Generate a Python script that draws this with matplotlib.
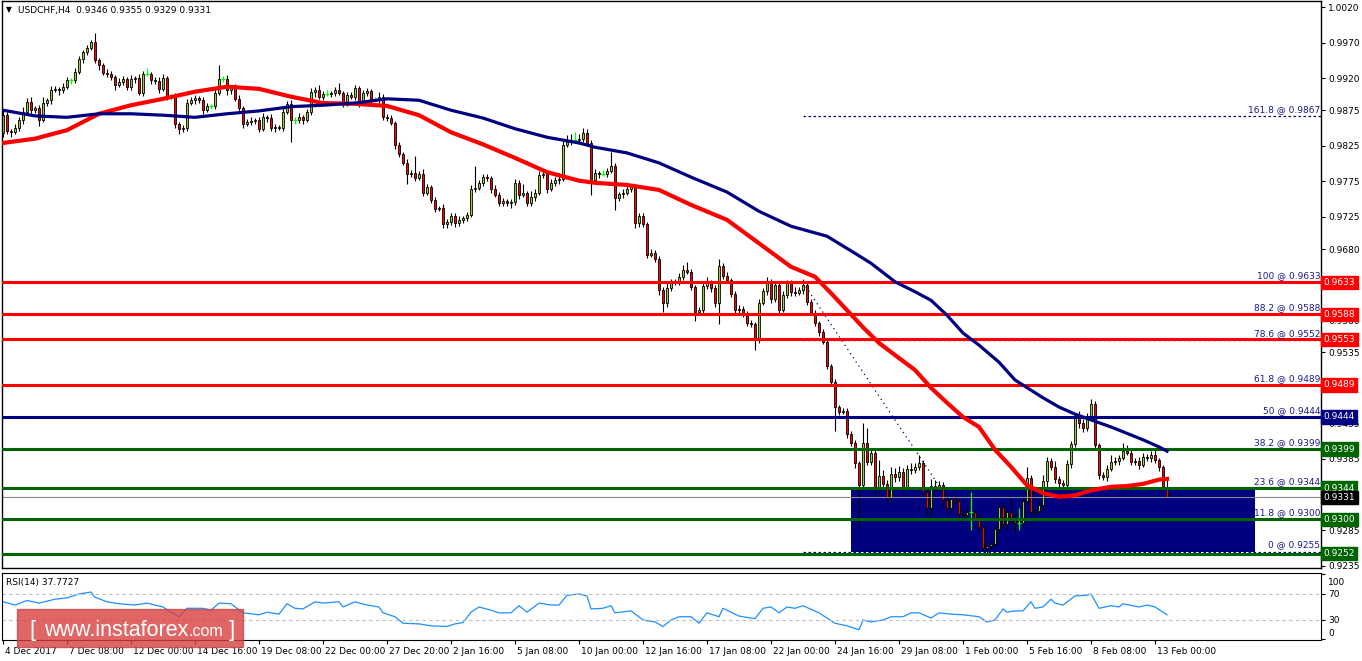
import numpy as np
import matplotlib
matplotlib.use("Agg")
import matplotlib.pyplot as plt
import matplotlib.transforms as mtransforms
from matplotlib.patches import Rectangle

plt.rcParams['font.family'] = ['DejaVu Sans']

# USDCHF H4 closes in pips (9868 = 0.9868), 16 bars per row
first_open = 9843
closes = [
    9868, 9846, 9844, 9850, 9861, 9872, 9887, 9875, 9878, 9861, 9885, 9889, 9903, 9905, 9903, 9908,
    9917, 9917, 9929, 9947, 9957, 9962, 9971, 9945, 9938, 9927, 9926, 9922, 9910, 9915, 9919, 9908,
    9919, 9920, 9899, 9926, 9926, 9917, 9916, 9905, 9920, 9894, 9894, 9856, 9849, 9850, 9885, 9889,
    9892, 9889, 9875, 9881, 9881, 9899, 9919, 9919, 9903, 9908, 9891, 9878, 9856, 9858, 9860, 9861,
    9849, 9865, 9864, 9850, 9851, 9850, 9872, 9884, 9861, 9861, 9865, 9861, 9872, 9900, 9903, 9894,
    9898, 9898, 9899, 9903, 9899, 9885, 9896, 9894, 9906, 9885, 9899, 9902, 9889, 9889, 9894, 9866,
    9864, 9857, 9826, 9813, 9801, 9785, 9787, 9780, 9786, 9759, 9767, 9749, 9736, 9738, 9715, 9718,
    9726, 9716, 9721, 9724, 9728, 9764, 9766, 9773, 9781, 9780, 9764, 9756, 9745, 9747, 9744, 9746,
    9773, 9756, 9759, 9745, 9753, 9759, 9784, 9785, 9764, 9773, 9777, 9779, 9826, 9830, 9833, 9833,
    9835, 9843, 9829, 9777, 9787, 9785, 9785, 9790, 9797, 9752, 9757, 9759, 9764, 9768, 9716, 9726,
    9715, 9672, 9675, 9666, 9622, 9604, 9625, 9632, 9634, 9641, 9650, 9648, 9627, 9592, 9594, 9628,
    9632, 9625, 9604, 9656, 9642, 9636, 9617, 9594, 9596, 9590, 9576, 9574, 9552, 9604, 9621, 9632,
    9610, 9630, 9594, 9615, 9632, 9620, 9618, 9622, 9630, 9606, 9590, 9576, 9563, 9549, 9516, 9493,
    9458, 9451, 9453, 9420, 9407, 9379, 9348, 9408, 9381, 9393, 9344, 9361, 9350, 9330, 9364, 9360,
    9367, 9346, 9371, 9370, 9374, 9379, 9338, 9316, 9347, 9346, 9348, 9327, 9316, 9329, 9326, 9308,
    9306, 9311, 9311, 9302, 9289, 9260, 9263, 9266, 9287, 9317, 9293, 9310, 9302, 9295, 9295, 9326,
    9358, 9311, 9312, 9320, 9354, 9382, 9374, 9357, 9351, 9349, 9378, 9406, 9444, 9435, 9428, 9445,
    9462, 9404, 9362, 9360, 9371, 9381, 9382, 9386, 9396, 9394, 9381, 9382, 9377, 9388, 9386, 9391,
    9383, 9374, 9346, 9331,
]
# wick length above / below the body, in pips
up_wick = [
    6, 4, 3, 5, 4, 8, 5, 6, 3, 4, 8, 3, 6, 4, 3, 5,
    4, 3, 6, 4, 3, 5, 3, 12, 4, 3, 6, 4, 3, 5, 4, 3,
    5, 3, 6, 4, 8, 3, 4, 5, 6, 3, 4, 5, 3, 4, 6, 5,
    4, 3, 5, 4, 3, 6, 19, 4, 5, 3, 4, 5, 3, 4, 5, 3,
    4, 6, 3, 5, 4, 3, 6, 4, 5, 4, 6, 3, 5, 6, 4, 8,
    4, 6, 3, 4, 10, 3, 4, 5, 4, 3, 5, 4, 3, 4, 6, 4,
    3, 4, 3, 4, 3, 5, 4, 24, 4, 6, 5, 3, 4, 3, 5, 4,
    5, 4, 6, 3, 4, 6, 30, 4, 5, 4, 3, 6, 4, 5, 3, 4,
    6, 4, 12, 3, 8, 5, 6, 4, 3, 5, 4, 8, 6, 10, 8, 12,
    6, 7, 5, 4, 6, 3, 6, 4, 19, 4, 3, 5, 6, 4, 3, 5,
    4, 3, 5, 3, 4, 4, 8, 6, 4, 5, 8, 12, 4, 3, 5, 6,
    8, 5, 4, 10, 4, 6, 3, 4, 5, 4, 3, 4, 3, 6, 4, 8,
    6, 4, 5, 6, 5, 4, 6, 5, 8, 3, 4, 5, 3, 4, 3, 3,
    4, 3, 4, 3, 4, 5, 3, 28, 21, 6, 5, 23, 8, 6, 10, 8,
    8, 6, 5, 8, 6, 12, 4, 3, 10, 8, 6, 5, 4, 6, 4, 6,
    4, 8, 27, 3, 4, 3, 4, 3, 4, 6, 8, 5, 20, 4, 21, 6,
    16, 5, 3, 6, 8, 6, 4, 8, 4, 5, 6, 4, 6, 8, 6, 4,
    7, 4, 3, 5, 6, 10, 6, 4, 11, 8, 5, 4, 6, 5, 4, 5,
    6, 4, 3, 9,
]
dn_wick = [
    5, 4, 6, 3, 4, 5, 3, 6, 4, 8, 3, 4, 5, 3, 6, 4,
    3, 5, 4, 3, 5, 4, 3, 4, 6, 3, 5, 4, 6, 3, 4, 5,
    4, 6, 3, 4, 3, 5, 4, 6, 3, 4, 5, 6, 7, 5, 4, 3,
    5, 4, 6, 3, 4, 5, 3, 4, 6, 5, 3, 4, 6, 3, 4, 5,
    4, 3, 5, 4, 6, 3, 4, 3, 31, 6, 4, 5, 3, 4, 6, 3,
    4, 3, 5, 4, 3, 6, 4, 3, 5, 6, 3, 4, 5, 3, 4, 5,
    4, 3, 5, 4, 3, 13, 4, 5, 3, 4, 3, 5, 4, 3, 5, 6,
    4, 5, 3, 4, 5, 3, 4, 3, 5, 4, 6, 3, 4, 5, 3, 6,
    4, 6, 3, 5, 4, 6, 3, 4, 5, 3, 4, 5, 4, 3, 4, 3,
    5, 4, 3, 21, 4, 5, 3, 4, 3, 17, 4, 5, 3, 4, 6, 5,
    4, 5, 3, 4, 6, 12, 5, 4, 3, 4, 5, 3, 4, 13, 3, 5,
    4, 6, 5, 29, 4, 3, 5, 4, 6, 5, 4, 3, 14, 4, 3, 5,
    6, 4, 5, 3, 4, 6, 4, 3, 5, 4, 3, 4, 5, 3, 4, 6,
    34, 4, 3, 5, 4, 6, 60, 4, 5, 4, 8, 6, 5, 10, 6, 8,
    6, 8, 5, 6, 4, 5, 6, 8, 12, 6, 5, 8, 6, 5, 4, 6,
    8, 5, 26, 4, 5, 3, 9, 4, 5, 6, 4, 8, 10, 12, 10, 5,
    4, 19, 5, 4, 6, 8, 4, 6, 5, 7, 6, 5, 4, 6, 5, 4,
    4, 6, 5, 4, 6, 3, 4, 5, 3, 4, 5, 4, 6, 3, 4, 5,
    4, 6, 5, 2,
]

# moving averages (bar, pips)
red_bar = [0, 8, 16, 24, 32, 40, 48, 56, 64, 72, 80, 88, 96, 104, 112, 120, 128, 136, 144,
           148, 156, 164, 172, 181, 189, 197, 203, 207, 211, 215, 219, 223, 228, 232, 236, 240,
           244, 248, 252, 256, 260, 264, 268, 272, 277, 281, 285, 289, 291]
red_ma = [9829, 9835, 9847, 9870, 9882, 9891, 9901, 9908, 9905, 9894, 9885, 9884, 9881, 9868, 9844,
          9827, 9808, 9788, 9776, 9773, 9770, 9763, 9742, 9721, 9688, 9655, 9641, 9618, 9594, 9570,
          9548, 9531, 9510, 9485, 9464, 9444, 9430, 9398, 9374, 9348, 9337, 9332, 9334, 9341, 9346,
          9347, 9350, 9356, 9357]
navy_bar = [0, 8, 16, 24, 32, 40, 48, 56, 64, 72, 80, 88, 96, 104, 112, 120, 128, 136, 144,
            148, 156, 164, 172, 181, 189, 197, 206, 213, 217, 223, 228, 232, 236, 240, 244, 249,
            253, 260, 264, 268, 272, 277, 281, 285, 289, 291]
navy_ma = [9875, 9867, 9865, 9870, 9870, 9868, 9865, 9870, 9874, 9880, 9882, 9885, 9891, 9889, 9875,
           9864, 9849, 9837, 9829, 9823, 9815, 9801, 9781, 9760, 9733, 9712, 9698, 9674, 9660, 9634,
           9620, 9608, 9587, 9562, 9545, 9521, 9496, 9471, 9458, 9448, 9440, 9430, 9421, 9412, 9402,
           9396]

# RSI(14)
rsi_bar = [0, 3, 6, 9, 13, 16, 19, 22, 23, 26, 29, 33, 36, 40, 42, 44, 46, 50, 52, 54,
           57, 60, 64, 66, 69, 71, 73, 75, 78, 80, 84, 85, 88, 91, 94, 95, 98, 100, 104, 107,
           111, 113, 115, 117, 119, 122, 124, 127, 129, 131, 134, 137, 139, 141, 144, 146, 147, 150, 152, 153,
           157, 160, 163, 165, 167, 169, 172, 174, 176, 179, 180, 184, 188, 190, 192, 194, 196, 198, 200, 204,
           208, 211, 214, 215, 217, 220, 222, 225, 227, 229, 232, 234, 237, 240, 244, 246, 248, 250, 251, 253,
           255, 257, 258, 260, 262, 263, 265, 268, 271, 272, 274, 277, 279, 280, 284, 286, 288, 290, 291]
rsi_val = [58, 53, 60, 56, 62, 64, 70, 73, 65, 58, 55, 53, 56, 50, 42, 35, 48, 48, 45, 56,
           55, 41, 38, 42, 39, 55, 48, 47, 58, 56, 58, 50, 58, 53, 50, 41, 35, 25, 24, 21,
           20, 24, 26, 42, 50, 45, 41, 41, 52, 42, 56, 53, 53, 68, 70, 67, 47, 48, 52, 41,
           44, 30, 27, 20, 30, 35, 35, 25, 41, 35, 48, 36, 32, 48, 50, 41, 50, 48, 52, 41,
           25, 21, 15, 30, 27, 30, 35, 35, 41, 41, 33, 41, 39, 38, 35, 27, 30, 47, 42, 44,
           44, 58, 48, 50, 62, 56, 53, 67, 68, 70, 48, 52, 50, 55, 50, 53, 50, 42, 38]

# horizontal levels and their price tags
levels = [0.9633, 0.9588, 0.9553, 0.9489, 0.9444, 0.9399, 0.9344, 0.9300, 0.9252]
level_colors = ['#FF0000'] * 4 + ['#000080'] + ['#006400'] * 4
last_price = 0.9331

# fibonacci retracement
fib_pct = ['161.8', '100', '88.2', '78.6', '61.8', '50', '38.2', '23.6', '11.8', '0']
fib_price = [0.9867, 0.9633, 0.9588, 0.9552, 0.9489, 0.9444, 0.9399, 0.9344, 0.9300, 0.9255]
fib_start, fib_end = 200, 245
box_bars = (212, 313)
box_prices = (0.9255, 0.9346)

price_ticks = [1.0020, 0.9970, 0.9920, 0.9875, 0.9825, 0.9775, 0.9725, 0.9680, 0.9630, 0.9580,
               0.9535, 0.9485, 0.9435, 0.9385, 0.9335, 0.9285, 0.9235]
hidden_ticks = [0.9630, 0.9485, 0.9335]  # covered by the price tags
date_labels = ['4 Dec 2017', '7 Dec 08:00', '12 Dec 00:00', '14 Dec 16:00', '19 Dec 08:00',
               '22 Dec 00:00', '27 Dec 20:00', '2 Jan 16:00', '5 Jan 08:00', '10 Jan 00:00',
               '12 Jan 16:00', '17 Jan 08:00', '22 Jan 00:00', '24 Jan 16:00', '29 Jan 08:00',
               '1 Feb 00:00', '5 Feb 16:00', '8 Feb 08:00', '13 Feb 00:00']
date_bars = list(range(0, 16 * len(date_labels), 16))

W, H = 1362, 661
fig = plt.figure(figsize=(W / 100, H / 100), dpi=100)
ax = fig.add_axes([2 / W, 1 - 568 / H, 1319 / W, 567 / H])
ax2 = fig.add_axes([2 / W, 1 - 640 / H, 1319 / W, 67 / H])

c = np.array(closes) / 1e4
o = np.r_[first_open / 1e4, c[:-1]]
hi = np.maximum(o, c) + np.array(up_wick) / 1e4
lo = np.minimum(o, c) - np.array(dn_wick) / 1e4
x = np.arange(len(c))
doji = np.isclose(c, o)
bull = (c > o) & ~doji
bear = (c < o) & ~doji

# candles
ax.vlines(x[~doji], lo[~doji], hi[~doji], color='black', lw=0.8, zorder=2)
ax.bar(x[bull], (c - o)[bull], bottom=o[bull], width=0.62, color='#9ACD32',
       edgecolor='black', lw=0.6, zorder=2.1)
ax.bar(x[bear], (o - c)[bear], bottom=c[bear], width=0.62, color='#FF0000',
       edgecolor='black', lw=0.6, zorder=2.1)
ax.vlines(x[doji], lo[doji], hi[doji], color='#00FF00', lw=0.9, zorder=2.1)
ax.hlines(c[doji], x[doji] - 0.4, x[doji] + 0.4, color='#00FF00', lw=0.9, zorder=2.1)

# fib tool: dotted levels, diagonal and labels
xmax = 329.5
ax.hlines(fib_price, fib_start, xmax, colors='#000080', linestyles=(0, (2, 2)), lw=0.9, zorder=1)
ax.plot([fib_start, fib_end], [fib_price[1], fib_price[-1]], color='#000080',
        ls=(0, (1, 3)), lw=0.9, zorder=1)
trans = mtransforms.blended_transform_factory(ax.transAxes, ax.transData)
for pct, p in zip(fib_pct, fib_price):
    ax.text(0.9995, p + 0.00055, f'{pct} @ {p:.4f}', transform=trans, ha='right',
            va='baseline', fontsize=6.5, color='#1A1A8C', zorder=5)

ax.add_patch(Rectangle((box_bars[0], box_prices[0]), box_bars[1] - box_bars[0],
                       box_prices[1] - box_prices[0], color='#000080', lw=0, zorder=1.5))

ax.axhline(last_price, color='#8C8C8C', lw=0.8, zorder=2.5)
for lev, col in zip(levels, level_colors):
    ax.axhline(lev, color=col, lw=2.2, zorder=3)

# moving averages
ax.plot(red_bar, np.array(red_ma) / 1e4, color='#FF0000', lw=3.0, zorder=4)
ax.plot(navy_bar, np.array(navy_ma) / 1e4, color='#000080', lw=2.3, zorder=4)

# price tags on the right axis
for lev, col in list(zip(levels, level_colors)) + [(last_price, 'black')]:
    ax.text(1.002, lev, f'{lev:.4f}', transform=trans, ha='left', va='center', fontsize=6.5,
            color='white', bbox=dict(boxstyle='square,pad=0.25', fc=col, ec=col),
            clip_on=False, zorder=6)

ax.set_xlim(-0.25, xmax)
ax.set_ylim(0.923186, 1.002843)
ax.set_xticks([])
ax.yaxis.tick_right()
ax.set_yticks(price_ticks)
ax.set_yticklabels(['' if t in hidden_ticks else f'{t:.4f}' for t in price_ticks])
ax.tick_params(axis='y', direction='out', length=3, labelsize=6.5, pad=2, width=0.8)
for s in ax.spines.values():
    s.set_linewidth(1.0)

# RSI panel
ax2.plot(rsi_bar, rsi_val, color='#1E90FF', lw=0.9)
for lvl in (70, 30):
    ax2.axhline(lvl, color='#BEBEBE', ls=(0, (3, 3)), lw=0.8)
ax2.set_xlim(-0.25, xmax)
ax2.set_ylim(-0.8, 102.3)
ax2.yaxis.tick_right()
ax2.set_yticks([100, 70, 30, 0])
ax2.set_yticklabels(['100', '70', '30', '0'])
ax2.tick_params(axis='y', direction='out', length=3, labelsize=6.5, pad=2, width=0.8)
ax2.set_xticks(date_bars)
ax2.set_xticklabels(date_labels, ha='left')
ax2.tick_params(axis='x', direction='out', length=3, labelsize=6.5, pad=2, width=0.8)
for lab, dy in zip(ax2.get_yticklabels(), [-5, 0, 0, 5]):
    lab.set_transform(lab.get_transform() + mtransforms.ScaledTranslation(0, dy / 72, fig.dpi_scale_trans))
for lab in ax2.get_xticklabels():
    lab.set_transform(lab.get_transform() + mtransforms.ScaledTranslation(1.5 / 72, 0, fig.dpi_scale_trans))

# headers
fig.text(6 / W, 1 - 10 / H, '\u25BC', fontsize=5.5, va='center', ha='left')
fig.text(18 / W, 1 - 10 / H, 'USDCHF,H4  0.9346 0.9355 0.9329 0.9331', fontsize=6.5,
         va='center', ha='left')
fig.text(6 / W, 1 - 582 / H, 'RSI(14) 37.7727', fontsize=6.5, va='center', ha='left')

# watermark, pieces placed one after another
fig.patches.append(Rectangle((17 / W, 1 - 647 / H), 226 / W, 38 / H, transform=fig.transFigure,
                             fc='#D94040', ec='#C04848', lw=1, alpha=0.8, zorder=10))
wm_font = ['Liberation Sans', 'DejaVu Sans']
base_y = 1 - 636 / H
renderer = fig.canvas.get_renderer()
x_px = 29
for piece, size, gap in [('[', 16, 9), ('www.instaforex', 15.5, 0), ('.com', 11.5, 6), (']', 16, 0)]:
    t = fig.text(x_px / W, base_y, piece, fontsize=size, color='white', family=wm_font,
                 va='baseline', ha='left', zorder=11)
    x_px = t.get_window_extent(renderer).x1 + gap

fig.savefig('out.png', dpi=100)
